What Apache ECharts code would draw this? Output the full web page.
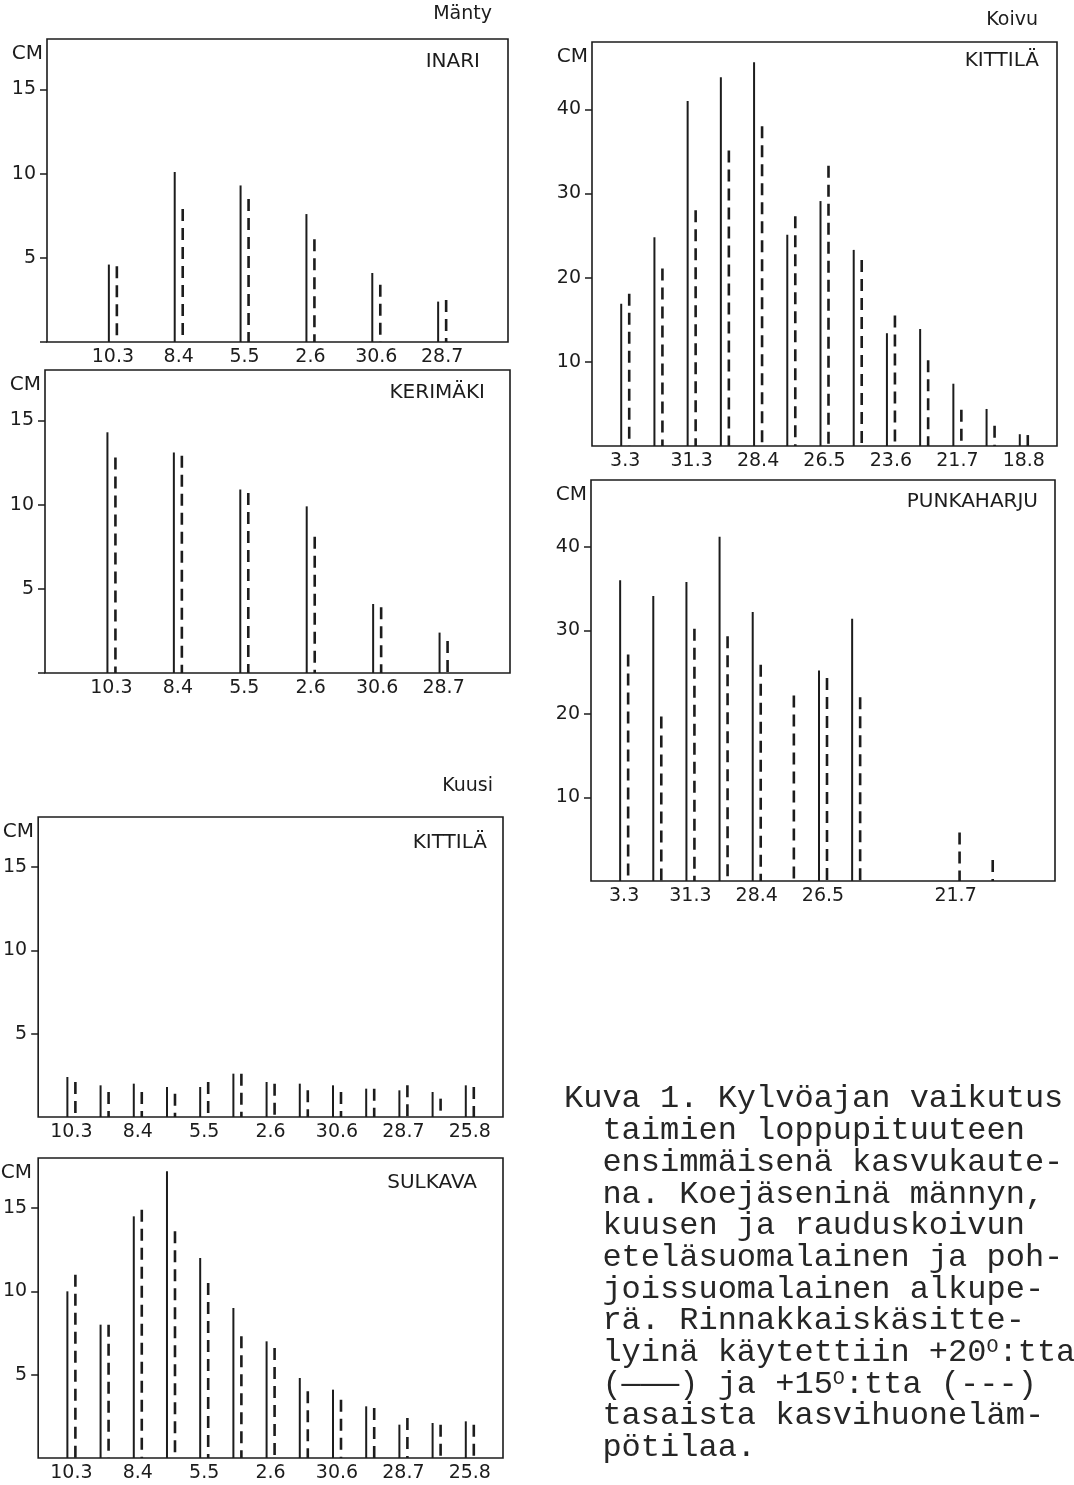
<!DOCTYPE html>
<html lang="fi">
<head>
<meta charset="utf-8">
<title>Kuva 1. Kylvöajan vaikutus taimien loppupituuteen</title>
<script src="https://cdn.jsdelivr.net/npm/echarts@6/dist/echarts.min.js"></script>
<style>
  html, body { margin: 0; padding: 0; background: #ffffff; }
  #chart { width: 1074px; height: 1485px; }
</style>
</head>
<body>
<div id="chart"></div>
<script>
// Kylvöpäivät (päivä.kuukausi); tyhjä = kylvökerta ilman nimiötä
const manty_dates = ['10.3', '8.4', '5.5', '2.6', '30.6', '28.7'];
const kuusi_dates = ['10.3', '', '8.4', '', '5.5', '', '2.6', '', '30.6', '', '28.7', '', '25.8'];
const koivu_kittila_dates = ['3.3', '', '31.3', '', '28.4', '', '26.5', '', '23.6', '', '21.7', '', '18.8'];
const koivu_punkaharju_dates = ['3.3', '', '31.3', '', '28.4', '', '26.5', '', '', '', '21.7', '', ''];

// Pystyakselin asteikkomerkinnät (cm)
const pine_spruce_ticks = [5, 10, 15];
const birch_ticks = [10, 20, 30, 40];

// Loppupituus, cm: *_20 = +20 °C (yhtenäinen viiva), *_15 = +15 °C (katkoviiva)
const inari_20 = [4.6, 10.1, 9.3, 7.6, 4.1, 2.4];
const inari_15 = [4.5, 7.9, 8.5, 6.1, 3.4, 2.5];
const kerimaki_20 = [14.3, 13.1, 10.9, 9.9, 4.1, 2.4];
const kerimaki_15 = [12.8, 12.9, 10.7, 8.1, 3.9, 1.9];
const kuusi_kittila_20 = [2.4, 1.9, 2.0, 1.8, 1.8, 2.6, 2.1, 2.0, 1.9, 1.7, 1.6, 1.5, 1.9];
const kuusi_kittila_15 = [2.1, 1.5, 1.5, 1.4, 2.1, 2.6, 2.0, 1.6, 1.5, 1.7, 1.9, 1.1, 1.8];
const sulkava_20 = [10.0, 8.0, 14.5, 17.2, 12.0, 9.0, 7.0, 4.8, 4.1, 3.1, 2.0, 2.1, 2.2];
const sulkava_15 = [11.0, 8.0, 14.9, 13.6, 10.5, 7.3, 6.6, 4.0, 3.5, 3.0, 2.4, 2.0, 2.0];
const koivu_kittila_20 = [16.9, 24.8, 41.0, 43.8, 45.6, 25.1, 29.1, 23.3, 13.4, 13.9, 7.4, 4.4, 1.4];
const koivu_kittila_15 = [18.1, 21.1, 28.0, 35.1, 38.0, 27.3, 33.3, 22.1, 15.5, 10.2, 4.3, 2.4, 1.3];
const punkaharju_20 = [36.0, 34.1, 35.8, 41.2, 32.2, null, 25.2, 31.4, null, null, null, null, null];
const punkaharju_15 = [27.1, 19.7, 30.2, 29.3, 25.9, 22.2, 24.3, 22.0, null, null, 5.8, 2.5, null];

const INK = '#1c1c1c';
const SANS = 'DejaVu Sans';
const MONO = 'Liberation Mono';

// Kuvaajaruudut: sijainti ja koko pikseleinä
const panels = [
  { name: 'INARI', dates: manty_dates, solid: inari_20, dashed: inari_15, ticks: pine_spruce_ticks, yMax: 18, zeroTick: true,
    frame: { left: 47, top: 39, width: 461, height: 303 }, titleAt: [28, 23] },
  { name: 'KERIMÄKI', dates: manty_dates, solid: kerimaki_20, dashed: kerimaki_15, ticks: pine_spruce_ticks, yMax: 18, zeroTick: true,
    frame: { left: 45, top: 370, width: 465, height: 303 }, titleAt: [25, 23] },
  { name: 'KITTILÄ', dates: kuusi_dates, solid: kuusi_kittila_20, dashed: kuusi_kittila_15, ticks: pine_spruce_ticks, yMax: 18, zeroTick: false,
    frame: { left: 38, top: 817, width: 465, height: 300 }, titleAt: [16, 25.5] },
  { name: 'SULKAVA', dates: kuusi_dates, solid: sulkava_20, dashed: sulkava_15, ticks: pine_spruce_ticks, yMax: 18, zeroTick: false,
    frame: { left: 36, top: 1158, width: 467, height: 300 }, titleAt: [26, 24.5] },
  { name: 'KITTILÄ', dates: koivu_kittila_dates, solid: koivu_kittila_20, dashed: koivu_kittila_15, ticks: birch_ticks, yMax: 48, zeroTick: false,
    frame: { left: 592, top: 42, width: 465, height: 404 }, titleAt: [18, 19] },
  { name: 'PUNKAHARJU', dates: koivu_punkaharju_dates, solid: punkaharju_20, dashed: punkaharju_15, ticks: birch_ticks, yMax: 48, zeroTick: false,
    frame: { left: 591, top: 480, width: 464, height: 401 }, titleAt: [17, 21.5] }
];

// Puulajien otsikot
const species = [
  { text: 'Mänty', x: 492, y: 14 },
  { text: 'Kuusi', x: 493, y: 786 },
  { text: 'Koivu', x: 1038, y: 20 }
];

// Kuvateksti konekirjoitusfontilla
const caption = [
  'Kuva 1. Kylvöajan vaikutus',
  '  taimien loppupituuteen',
  '  ensimmäisenä kasvukaute-',
  '  na. Koejäseninä männyn,',
  '  kuusen ja rauduskoivun',
  '  eteläsuomalainen ja poh-',
  '  joissuomalainen alkupe-',
  '  rä. Rinnakkaiskäsitte-',
  '  lyinä käytettiin +20{sup|O}:tta',
  '  (———) ja +15{sup|O}:tta (---)',
  '  tasaista kasvihuoneläm-',
  '  pötilaa.'
];

function toPoints(values) {
  const pts = [];
  values.forEach(function (v, i) { if (v != null) pts.push([i, v]); });
  return pts;
}

// Pystyviiva kylvökerran kohdalle, sivuttain siirrettynä käsittelyn mukaan
function stemRenderer(shiftPx, dash, width) {
  return function (params, api) {
    const x = api.value(0);
    const top = api.coord([x, api.value(1)]);
    const foot = api.coord([x, 0]);
    const style = { stroke: INK, lineWidth: width, lineCap: 'butt' };
    if (dash) style.lineDash = dash;
    return {
      type: 'line',
      shape: { x1: top[0] + shiftPx, y1: top[1], x2: foot[0] + shiftPx, y2: foot[1] },
      style: style
    };
  };
}

function label(text, x, y, align, size, family) {
  return {
    type: 'text', x: x, y: y, silent: true,
    style: { text: text, fill: INK, fontSize: size, fontFamily: family, align: align, verticalAlign: 'middle' }
  };
}

const grid = [], xAxis = [], yAxis = [], series = [], elements = [];

panels.forEach(function (p, i) {
  const f = p.frame;
  grid.push({ left: f.left, top: f.top, width: f.width, height: f.height,
              show: true, borderColor: INK, borderWidth: 1.6, backgroundColor: 'transparent' });
  xAxis.push({
    type: 'value', gridIndex: i, min: -1, max: p.dates.length, interval: 1, position: 'bottom',
    axisLine: { show: false, onZero: false }, axisTick: { show: false }, splitLine: { show: false },
    axisLabel: { margin: 6, color: INK, fontFamily: SANS, fontSize: 19,
                 formatter: function (v) { return p.dates[v] || ''; } }
  });
  yAxis.push({
    type: 'value', gridIndex: i, min: 0, max: p.yMax, interval: p.ticks[1] - p.ticks[0], position: 'left',
    axisLine: { show: false, onZero: false }, splitLine: { show: false },
    axisTick: { show: true, length: 7, lineStyle: { color: INK, width: 1.5 },
                customValues: p.zeroTick ? [0].concat(p.ticks) : p.ticks },
    axisLabel: { margin: 11, color: INK, fontFamily: SANS, fontSize: 19, customValues: p.ticks }
  });
  series.push({ type: 'custom', xAxisIndex: i, yAxisIndex: i, silent: true,
                data: toPoints(p.solid), renderItem: stemRenderer(-4, null, 2) });
  series.push({ type: 'custom', xAxisIndex: i, yAxisIndex: i, silent: true,
                data: toPoints(p.dashed), renderItem: stemRenderer(4, [12, 7], 2.6) });

  elements.push(label(p.name, f.left + f.width - p.titleAt[0], f.top + p.titleAt[1], 'right', 20, SANS));
  elements.push(label('CM', f.left - 4, f.top + 15, 'right', 20, SANS));
});

species.forEach(function (s) {
  elements.push(label(s.text, s.x, s.y, 'right', 19, SANS));
});

caption.forEach(function (line, k) {
  elements.push({
    type: 'text', x: 564, y: 1099 + k * 31.7, silent: true,
    style: {
      text: line, fill: '#262626', fontSize: 32, fontFamily: MONO, align: 'left', verticalAlign: 'middle', lineHeight: 32,
      rich: { sup: { fontSize: 20, fontFamily: MONO, fill: '#262626', verticalAlign: 'top' } }
    }
  });
});

const chart = echarts.init(document.getElementById('chart'), null, { renderer: 'canvas', width: 1074, height: 1485 });
chart.setOption({
  animation: false,
  backgroundColor: '#ffffff',
  textStyle: { fontFamily: SANS, color: INK },
  grid: grid,
  xAxis: xAxis,
  yAxis: yAxis,
  series: series,
  graphic: { elements: elements }
});
</script>
</body>
</html>
